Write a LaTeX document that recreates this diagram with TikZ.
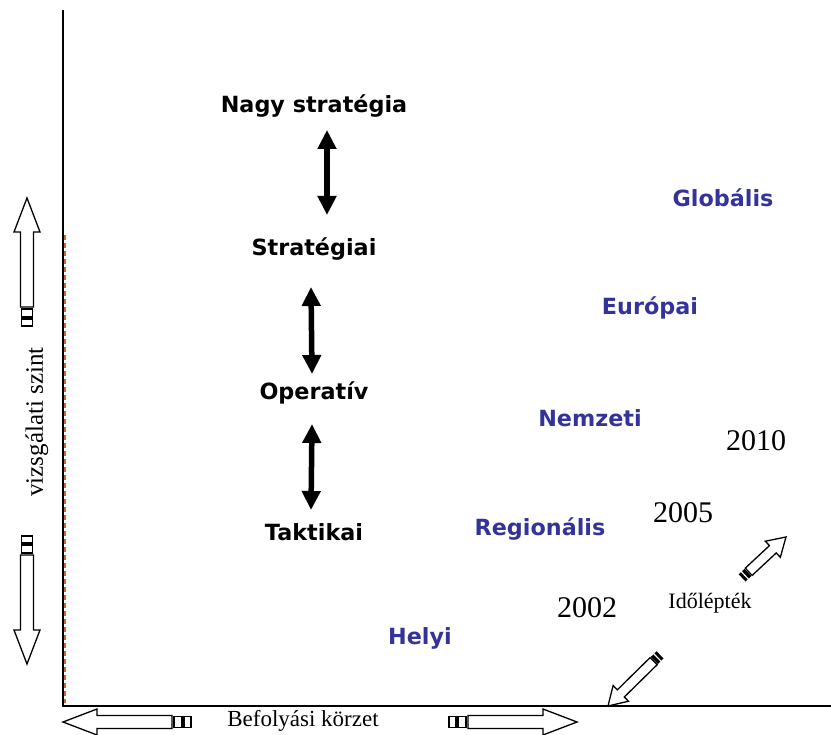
\documentclass[tikz,border=0pt]{standalone}
\usepackage{fontspec}
\setmainfont{Liberation Serif}
\newfontfamily\verdfont{DejaVu Sans}
\usetikzlibrary{arrows.meta}
\definecolor{zoneblue}{RGB}{51,51,153}
\definecolor{dashorange}{RGB}{204,102,51}
\tikzset{
    level/.style = {font=\verdfont\bfseries\fontsize{22.3}{26}\selectfont, inner sep=0pt},
    zone/.style = {level, text=zoneblue},
    year/.style = {font=\fontsize{30}{34}\selectfont, inner sep=0pt},
    caption/.style = {font=\fontsize{22}{26}\selectfont, inner sep=0pt},
    axis/.style = {line width=2pt},
    twoway/.style = {line width=5.5pt, {Triangle[width=18pt,length=19pt]}-{Triangle[width=18pt,length=19pt]}},
    pics/hollow/.style = {code={
        \draw[line width=1.3pt, line join=miter] (0,0) -- (-34,-13) -- (-34,-6.5) -- (-109,-6.5)
            -- (-109,6.5) -- (-34,6.5) -- (-34,13) -- cycle;
        \draw[line width=1.3pt] (-111,-5.5) rectangle (-119,5.5) (-121,-5.5) rectangle (-128,5.5);}},
    pics/pencil/.style = {code={
        \draw[line width=1.3pt, line join=miter] (0,0) -- (-18,-11) -- (-18,-5) -- (-#1+9,-5)
            -- (-#1+9,5) -- (-18,5) -- (-18,11) -- cycle;
        \fill (-#1,-5) rectangle (-#1+3,5) (-#1+4.5,-5) rectangle (-#1+8,5);}}}

\begin{document}
\begin{tikzpicture}[x=1pt,y=-1pt]
    \useasboundingbox (0,0) rectangle (831,735);
    % axes
    \coordinate (O) at (63,706);
    \draw[axis] (63,10) -- (O) -- (831,706);
    \draw[dashorange, line width=1.3pt, dash pattern=on 5pt off 3pt] (65,235) -- (65,703);
    % levels
    \path (314,106) node[level] (nagy) {Nagy stratégia}
        ++ (0,143) node[level] (strat) {Stratégiai}
        ++ (0,144) node[level] (oper) {Operatív}
        ++ (0,139) node[level] (takt) {Taktikai};
    \draw[twoway] ([xshift=13pt,yshift=-24pt]nagy.center) -- ([xshift=13pt,yshift=34pt]strat.center);
    \draw[twoway] ([xshift=-3pt,yshift=-38pt]strat.center) -- ([xshift=-2pt,yshift=19pt]oper.center);
    \draw[twoway] ([xshift=-2pt,yshift=-31pt]oper.center) -- ([xshift=-3pt,yshift=22pt]takt.center);
    % zones
    \path (723,198) node[zone] (glob) {Globális}
        (650,308) node[zone] (euro) {Európai}
        (590,418) node[zone] (nemz) {Nemzeti}
        (540,529) node[zone] (regio) {Regionális}
        (420,638) node[zone] (helyi) {Helyi};
    % years
    \node[year] (y2010) at (756,441) {2010};
    \node[year] (y2005) at (683,513) {2005};
    \node[year] (y2002) at (587,608) {2002};
    \node[caption] (time) at (710,603) {Időlépték};
    \pic[rotate=43] at (786,537) {pencil=60};
    \pic[rotate=224.5] at (608,706) {pencil=73};
    % side labels
    \node[caption, rotate=90, font=\fontsize{25}{29}\selectfont] (vlabel) at (37,422) {vizsgálati szint};
    \node[caption, font=\fontsize{23}{27}\selectfont] (hlabel) at (303,721) {Befolyási körzet};
    \pic[rotate=90] at (27,198) {hollow};
    \pic[rotate=-90] at (27,664) {hollow};
    \pic[rotate=180] at (63,722) {hollow};
    \pic at (577,722) {hollow};
\end{tikzpicture}
\end{document}
